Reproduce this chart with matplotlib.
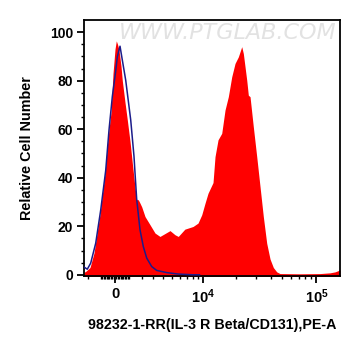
import matplotlib
matplotlib.use("Agg")
import matplotlib.pyplot as plt
import numpy as np
from matplotlib.ticker import FixedLocator, NullFormatter

plt.rcParams['font.family'] = ['Liberation Sans', 'DejaVu Sans']
plt.rcParams['font.weight'] = 'bold'
plt.rcParams['mathtext.fontset'] = 'custom'
plt.rcParams['mathtext.rm'] = 'Liberation Sans:bold'
plt.rcParams['mathtext.bf'] = 'Liberation Sans:bold'

# stained sample (red filled histogram)
red_x = [-2346, -2177, -1850, -1535, -1306, -1081, -934, -715, -570, -427, -284, -142,
         0, 92, 178, 284, 427, 520, 715, 882, 1081, 1253, 1458, 1590, 1715, 1850, 1988,
         2260, 2696, 3153, 3639, 4171, 4741, 5358, 5790, 6737, 8083, 9006, 9749, 10457,
         11139, 12368, 12893, 13721, 14810, 15848, 16957, 18177, 19442, 20790, 22277,
         23010, 24651, 25460, 26350, 28160, 30163, 32245, 34446, 36880, 39431, 42135,
         45100, 48200, 72000, 107500, 131300, 145200, 160300]
red_y = [1.0, 1.5, 3, 9, 17, 25, 32, 42, 52, 60, 67, 83,
         93, 96.4, 95, 92.6, 86, 80, 71, 63.8, 55, 46, 36, 31, 30.9, 29.5, 28,
         24, 20.6, 17.2, 15.8, 17, 18.2, 16.5, 15.8, 18.8, 19.9, 21.3, 24.7, 29.5,
         33.6, 38, 48.7, 55.6, 58.3, 67.9, 73.4, 81.6, 87.1, 89.8, 94,
         91.2, 80.2, 74, 73.4, 61, 48.7, 36.3, 24, 13, 6.5, 3,
         1.2, 0.5, 0.4, 0.5, 0.8, 1.2, 2]

# isotype control (blue line)
blue_x = [-2346, -2070, -1795, -1405, -1029, -664, -427, -192, 50, 163, 356, 520, 765,
          1133, 1382, 1458, 1590, 1850, 2120, 2404, 2845, 3315, 4361, 5790, 8083, 9300]
blue_y = [3.2, 2.3, 4.8, 13, 26.7, 43, 59.7, 73.4, 84, 89.8, 94.2, 88.5, 80.2,
          63.8, 48.7, 42, 31, 18.5, 11.6, 6.9, 3.4, 1.8, 0.9, 0.3, 0.0, 0.0]

x_major = [0, 1e4, 1e5]
x_major_labels = ['0', r'$\mathbf{10^4}$', r'$\mathbf{10^5}$']
x_minor = ([-2000, -1000] + list(range(-900, 0, 100)) + list(range(100, 1000, 100))
           + list(range(1000, 10000, 1000)) + list(range(20000, 100000, 10000)))

W = 3546.0


def fwd(x):
    return np.arcsinh(np.asarray(x, dtype=float) / W)


def inv(y):
    return W * np.sinh(np.asarray(y, dtype=float))


fig = plt.figure(figsize=(3.61, 3.56), dpi=100)
ax = fig.add_axes([84 / 361, 1 - 276 / 356, 256 / 361, 256 / 356])
ax.set_xscale('function', functions=(fwd, inv))

ax.fill_between(red_x, red_y, -1, color='#ff0000', lw=0, zorder=2)
ax.plot(blue_x, blue_y, color='#1c1c8a', lw=1.1, zorder=3)

ax.set_xlim(-2346, 160300)
ax.set_ylim(-0.5, 105)

ax.xaxis.set_major_locator(FixedLocator(x_major))
ax.set_xticklabels(x_major_labels, fontsize=10.5, fontweight='bold')
ax.xaxis.set_minor_locator(FixedLocator(x_minor))
ax.xaxis.set_minor_formatter(NullFormatter())

ax.set_yticks([0, 20, 40, 60, 80, 100])
ax.set_yticklabels(['0', '20', '40', '60', '80', '100'], fontsize=10, fontweight='bold')
ax.yaxis.set_minor_locator(FixedLocator(np.arange(0, 105, 5)))

ax.tick_params(which='major', direction='out', length=5, width=1.3, pad=3)
ax.tick_params(which='minor', direction='out', length=2.5, width=1.0)
for s in ax.spines.values():
    s.set_linewidth(1.3)

ax.set_xlabel('98232-1-RR(IL-3 R Beta/CD131),PE-A', fontsize=10.3, fontweight='bold')
ax.set_ylabel('Relative Cell Number', fontsize=10.4, fontweight='bold')
ax.yaxis.set_label_coords(-0.195, 0.5)
ax.xaxis.set_label_coords(0.5, -0.165)

ax.text(0.56, 0.95, 'WWW.PTGLAB.COM', transform=ax.transAxes, ha='center', va='center',
        fontsize=16, fontweight='light', fontstyle='italic', color='#e2e2e2',
        family=['DejaVu Sans'], zorder=1)

fig.savefig('out.png', dpi=100)
